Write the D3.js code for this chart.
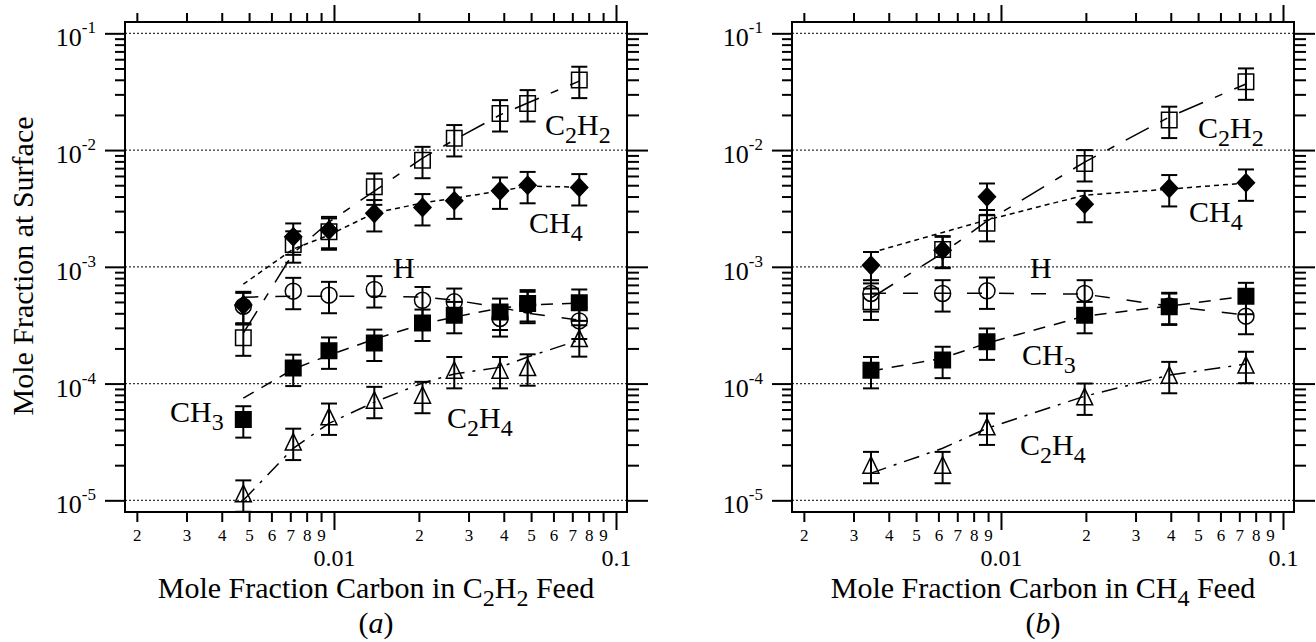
<!DOCTYPE html>
<html>
<head>
<meta charset="utf-8">
<script src="https://cdn.jsdelivr.net/npm/d3@7"></script>
<style>
  body { margin: 0; background: #fff; }
  svg { display: block; }
</style>
</head>
<body>
<svg id="chart"></svg>
<script>
// ---------- values ----------

// panel (a): C2H2 feed
const feedA    = [0.00477, 0.00717, 0.0096, 0.0139, 0.0206, 0.0267, 0.0388, 0.0486, 0.0741];
const c2h2A    = [2.47e-4, 1.55e-3, 2.0e-3, 4.85e-3, 8.2e-3, 1.26e-2, 2.06e-2, 2.51e-2, 3.98e-2];
const ch4A     = [4.7e-4, 1.81e-3, 2.06e-3, 2.87e-3, 3.23e-3, 3.68e-3, 4.48e-3, 5.0e-3, 4.79e-3];
const hA       = [4.6e-4, 6.19e-4, 5.72e-4, 6.4e-4, 5.17e-4, 5.01e-4, 3.61e-4, 4.7e-4, 3.44e-4];
const ch3A     = [4.92e-5, 1.36e-4, 1.91e-4, 2.23e-4, 3.31e-4, 3.85e-4, 4.11e-4, 4.86e-4, 4.92e-4];
const c2h4A    = [1.14e-5, 3.16e-5, 5.19e-5, 7.21e-5, 7.96e-5, 1.30e-4, 1.30e-4, 1.37e-4, 2.43e-4];
// model curves (dashed lines) for panel (a)
const c2h2FitA = [2.7e-4, 1.31e-3, 2.42e-3, 4.45e-3, 8.54e-3, 1.22e-2, 2.0e-2, 2.53e-2, 3.9e-2];
const ch4FitA  = [7.1e-4, 1.42e-3, 1.87e-3, 2.89e-3, 3.52e-3, 3.88e-3, 4.45e-3, 4.91e-3, 4.82e-3];
const hFitA    = [5.5e-4, 5.61e-4, 5.61e-4, 5.61e-4, 5.5e-4, 5.18e-4, 4.51e-4, 4.0e-4, 3.49e-4];
const ch3FitA  = [7.5e-5, 1.33e-4, 1.75e-4, 2.4e-4, 3.23e-4, 3.71e-4, 4.43e-4, 4.7e-4, 4.89e-4];
const c2h4FitA = [1.0e-5, 2.79e-5, 4.57e-5, 6.93e-5, 1.01e-4, 1.21e-4, 1.38e-4, 1.69e-4, 2.36e-4];

// panel (b): CH4 feed
const feedB    = [0.00346, 0.00621, 0.00892, 0.0198, 0.0395, 0.0739];
const c2h2B    = [5.01e-4, 1.41e-3, 2.36e-3, 7.69e-3, 1.81e-2, 3.85e-2];
const ch4B     = [1.03e-3, 1.39e-3, 3.98e-3, 3.44e-3, 4.7e-3, 5.25e-3];
const hB       = [5.91e-4, 5.91e-4, 6.23e-4, 5.91e-4, 4.61e-4, 3.78e-4];
const ch3B     = [1.3e-4, 1.59e-4, 2.28e-4, 3.85e-4, 4.54e-4, 5.61e-4];
const c2h4B    = [2.0e-5, 2.0e-5, 4.26e-5, 7.7e-5, 1.18e-4, 1.44e-4];
const c2h2FitB = [5.4e-4, 1.31e-3, 2.46e-3, 7.89e-3, 1.92e-2, 3.68e-2];
const ch4FitB  = [1.32e-3, 1.97e-3, 2.52e-3, 4.11e-3, 4.63e-3, 5.22e-3];
const hFitB    = [5.94e-4, 5.94e-4, 5.94e-4, 5.83e-4, 4.61e-4, 3.85e-4];
const ch3FitB  = [1.28e-4, 1.65e-4, 2.22e-4, 3.78e-4, 4.61e-4, 5.61e-4];
const c2h4FitB = [1.71e-5, 2.79e-5, 4.14e-5, 7.79e-5, 1.18e-4, 1.47e-4];

// error bars are roughly +/-30% on every point
const relErr = 0.3;

// tick values / labels
const yDecades     = [1e-5, 1e-4, 1e-3, 1e-2, 1e-1];
const minorDigits  = [2, 3, 4, 5, 6, 7, 8, 9];
const xMajorTicks  = [0.01, 0.1];
const xMajorLabels = ['0.01', '0.1'];

const serif = "'Liberation Serif', 'Times New Roman', Times, serif";

const speciesStyle = {
    C2H2: {marker: 'square',   filled: false, dash: '26,13,8,13'},
    CH4:  {marker: 'diamond',  filled: true,  dash: '5,4'},
    H:    {marker: 'circle',   filled: false, dash: '15,17'},
    CH3:  {marker: 'square',   filled: true,  dash: '12,9'},
    C2H4: {marker: 'triangle', filled: false, dash: '16,8,3,8'}
};

// puts "C_2H_2" style strings into a text element with subscripts
function addChem(textSel, str, size) {
    let inSub = false;
    str.split(/(_\d)/).forEach(part => {
        if (part === '') return;
        if (part[0] === '_') {
            textSel.append('tspan').text(part.slice(1))
                .attr('font-size', size * 0.8)
                .attr('dy', inSub ? 0 : size * 0.25);
            inSub = true;
        } else {
            textSel.append('tspan').text(part)
                .attr('font-size', size)
                .attr('dy', inSub ? -size * 0.25 : 0);
            inSub = false;
        }
    });
}

function markerPath(type) {
    const p = d3.path();
    if (type === 'square') {
        p.rect(-7.75, -7.75, 15.5, 15.5);
    } else if (type === 'diamond') {
        p.moveTo(0, -9); p.lineTo(8.5, 0); p.lineTo(0, 9); p.lineTo(-8.5, 0); p.closePath();
    } else if (type === 'circle') {
        p.moveTo(8, 0); p.arc(0, 0, 8, 0, 2 * Math.PI);
    } else {
        p.moveTo(0, -8.5); p.lineTo(8, 8); p.lineTo(-8, 8); p.closePath();
    }
    return p.toString();
}

class SurfacePanel {
    constructor(_config, _feed, _series) {
        this.config = {
            parentElement: _config.parentElement,
            left: _config.left,
            top: _config.top,
            width: _config.width || 502,
            height: _config.height || 490,
            feedLabel: _config.feedLabel,
            letter: _config.letter,
            showYTitle: _config.showYTitle || false,
            labels: _config.labels || []
        };
        this.feed = _feed;
        this.series = _series;
        this.initVis();
    }

    initVis() {
        let vis = this;
        vis.width = vis.config.width;
        vis.height = vis.config.height;

        vis.chart = d3.select(vis.config.parentElement).append('g')
            .attr('transform', `translate(${vis.config.left}, ${vis.config.top})`)
            .attr('font-family', serif);

        // log scales, same range for both panels
        vis.xScale = d3.scaleLog()
            .domain([Math.pow(10, -2.741), Math.pow(10, -0.961)])
            .range([0, vis.width]);
        vis.yScale = d3.scaleLog()
            .domain([Math.pow(10, -5.1), Math.pow(10, -0.903)])
            .range([vis.height, 0]);

        let xDom = vis.xScale.domain();
        vis.xMinor = [];
        [1e-3, 1e-2].forEach(dec => minorDigits.forEach(m => {
            let v = m * dec;
            if (v > xDom[0] && v < xDom[1]) vis.xMinor.push(v);
        }));
        vis.yMinor = [];
        [1e-5, 1e-4, 1e-3, 1e-2].forEach(dec => minorDigits.forEach(m => vis.yMinor.push(m * dec)));

        // dotted grid at each decade
        vis.chart.append('g').selectAll('line')
            .data(yDecades)
            .join('line')
                .attr('x1', 0).attr('x2', vis.width)
                .attr('y1', d => vis.yScale(d)).attr('y2', d => vis.yScale(d))
                .attr('stroke', '#333')
                .attr('stroke-width', 1.2)
                .attr('stroke-dasharray', '2,2');

        const cleanAxis = g => {
            g.select('.domain').remove();
            g.selectAll('.tick line').attr('stroke', '#000').attr('stroke-width', 2);
        };

        // left / right axes
        vis.chart.append('g').call(d3.axisLeft(vis.yScale).tickValues(yDecades).tickSize(20).tickFormat('')).call(cleanAxis);
        vis.chart.append('g').call(d3.axisLeft(vis.yScale).tickValues(vis.yMinor).tickSize(10).tickFormat('')).call(cleanAxis);
        vis.chart.append('g').attr('transform', `translate(${vis.width},0)`)
            .call(d3.axisRight(vis.yScale).tickValues(yDecades).tickSize(21).tickFormat('')).call(cleanAxis);
        vis.chart.append('g').attr('transform', `translate(${vis.width},0)`)
            .call(d3.axisRight(vis.yScale).tickValues(vis.yMinor).tickSize(12).tickFormat('')).call(cleanAxis);

        // top axis, ticks only
        vis.chart.append('g').call(d3.axisTop(vis.xScale).tickValues(vis.xMinor).tickSize(9).tickFormat('')).call(cleanAxis);
        vis.chart.append('g').call(d3.axisTop(vis.xScale).tickValues(xMajorTicks).tickSize(17).tickFormat('')).call(cleanAxis);

        // bottom axis with labels
        vis.chart.append('g').attr('transform', `translate(0,${vis.height})`)
            .call(d3.axisBottom(vis.xScale).tickValues(vis.xMinor).tickSize(10)
                .tickFormat(d => String(Math.round(d / Math.pow(10, Math.floor(Math.log10(d) + 1e-9))))))
            .call(cleanAxis)
            .call(g => g.selectAll('text')
                .attr('dy', null).attr('y', 29)
                .attr('font-family', serif).attr('font-size', 17).attr('fill', '#000'));
        vis.chart.append('g').attr('transform', `translate(0,${vis.height})`)
            .call(d3.axisBottom(vis.xScale).tickValues(xMajorTicks).tickSize(18)
                .tickFormat((d, i) => xMajorLabels[i]))
            .call(cleanAxis)
            .call(g => g.selectAll('text')
                .attr('dy', null).attr('y', 54)
                .attr('font-family', serif).attr('font-size', 24).attr('fill', '#000'));

        // y tick labels 10^n
        vis.chart.append('g').selectAll('text')
            .data(yDecades)
            .join('text')
                .attr('x', -29)
                .attr('y', d => vis.yScale(d) + 13)
                .attr('text-anchor', 'end')
                .each(function(d) {
                    let t = d3.select(this);
                    t.append('tspan').text('10').attr('font-size', 26);
                    t.append('tspan').text(String(Math.round(Math.log10(d)))).attr('font-size', 17).attr('dy', -13);
                });

        // frame
        vis.chart.append('rect')
            .attr('width', vis.width).attr('height', vis.height)
            .attr('fill', 'none').attr('stroke', '#000').attr('stroke-width', 2);

        // axis titles
        let xt = vis.chart.append('text')
            .attr('x', vis.width / 2).attr('y', vis.height + 86)
            .attr('text-anchor', 'middle')
            .style('white-space', 'pre');
        addChem(xt, 'Mole Fraction Carbon in ' + vis.config.feedLabel + ' Feed', 30);

        let lt = vis.chart.append('text')
            .attr('x', vis.width / 2).attr('y', vis.height + 121)
            .attr('text-anchor', 'middle')
            .attr('font-size', 30);
        lt.append('tspan').text('(');
        lt.append('tspan').text(vis.config.letter).attr('font-style', 'italic');
        lt.append('tspan').text(')');

        if (vis.config.showYTitle) {
            vis.chart.append('text')
                .attr('transform', `translate(${-92}, ${vis.height / 2 - 1}) rotate(-90)`)
                .attr('text-anchor', 'middle')
                .attr('font-size', 30)
                .text('Mole Fraction at Surface');
        }

        vis.updateVis();
    }

    updateVis() {
        let vis = this;

        let line = d3.line()
            .x(d => vis.xScale(d[0]))
            .y(d => vis.yScale(d[1]));

        // model curves
        vis.chart.append('g').selectAll('path')
            .data(vis.series)
            .join('path')
                .attr('d', s => line(d3.zip(vis.feed, s.fit)))
                .attr('fill', 'none')
                .attr('stroke', '#000')
                .attr('stroke-width', 1.5)
                .attr('stroke-dasharray', s => speciesStyle[s.key].dash);

        // flatten the measured points
        let points = [];
        vis.series.forEach(s => {
            s.obs.forEach((v, i) => points.push({key: s.key, x: vis.feed[i], y: v}));
        });

        // error bars
        let bars = vis.chart.append('g').selectAll('g')
            .data(points)
            .join('g')
                .attr('transform', d => `translate(${vis.xScale(d.x)},0)`)
                .attr('stroke', '#000')
                .attr('stroke-width', 2);
        bars.append('line')
            .attr('y1', d => vis.yScale(d.y * (1 + relErr)))
            .attr('y2', d => vis.yScale(d.y * (1 - relErr)));
        bars.append('line')
            .attr('x1', -8).attr('x2', 8)
            .attr('y1', d => vis.yScale(d.y * (1 + relErr)))
            .attr('y2', d => vis.yScale(d.y * (1 + relErr)));
        bars.append('line')
            .attr('x1', -8).attr('x2', 8)
            .attr('y1', d => vis.yScale(d.y * (1 - relErr)))
            .attr('y2', d => vis.yScale(d.y * (1 - relErr)));

        // markers
        vis.chart.append('g').selectAll('path')
            .data(points)
            .join('path')
                .attr('transform', d => `translate(${vis.xScale(d.x)},${vis.yScale(d.y)})`)
                .attr('d', d => markerPath(speciesStyle[d.key].marker))
                .attr('fill', d => speciesStyle[d.key].filled ? '#000' : 'none')
                .attr('stroke', '#000')
                .attr('stroke-width', 1.5);

        // species labels
        vis.config.labels.forEach(l => {
            let t = vis.chart.append('text')
                .attr('x', l.x).attr('y', l.y);
            addChem(t, l.text, 30);
        });
    }
}

d3.select('#chart')
    .attr('width', 1316)
    .attr('height', 642);

new SurfacePanel({
    parentElement: '#chart',
    left: 125, top: 22,
    feedLabel: 'C_2H_2', letter: 'a', showYTitle: true,
    labels: [
        {text: 'C_2H_2', x: 420, y: 113},
        {text: 'CH_4',   x: 404, y: 211},
        {text: 'H',      x: 268, y: 256},
        {text: 'CH_3',   x: 45,  y: 400},
        {text: 'C_2H_4', x: 322, y: 406}
    ]
}, feedA, [
    {key: 'C2H2', obs: c2h2A, fit: c2h2FitA},
    {key: 'CH4',  obs: ch4A,  fit: ch4FitA},
    {key: 'H',    obs: hA,    fit: hFitA},
    {key: 'CH3',  obs: ch3A,  fit: ch3FitA},
    {key: 'C2H4', obs: c2h4A, fit: c2h4FitA}
]);

new SurfacePanel({
    parentElement: '#chart',
    left: 792, top: 22,
    feedLabel: 'CH_4', letter: 'b',
    labels: [
        {text: 'C_2H_2', x: 406, y: 116},
        {text: 'CH_4',   x: 397, y: 200},
        {text: 'H',      x: 238, y: 256},
        {text: 'CH_3',   x: 230, y: 343},
        {text: 'C_2H_4', x: 228, y: 433}
    ]
}, feedB, [
    {key: 'C2H2', obs: c2h2B, fit: c2h2FitB},
    {key: 'CH4',  obs: ch4B,  fit: ch4FitB},
    {key: 'H',    obs: hB,    fit: hFitB},
    {key: 'CH3',  obs: ch3B,  fit: ch3FitB},
    {key: 'C2H4', obs: c2h4B, fit: c2h4FitB}
]);
</script>
</body>
</html>
